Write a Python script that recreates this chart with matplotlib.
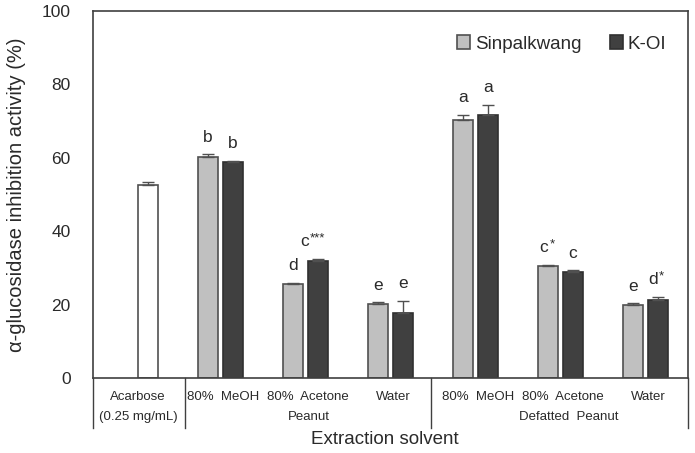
import numpy as np
import matplotlib
matplotlib.use('Agg')
import matplotlib.pyplot as plt
import matplotlib.transforms as mtransforms

plt.rcParams['font.family'] = ['Liberation Sans', 'DejaVu Sans']

# data
groups = ['80%  MeOH', '80%  Acetone', 'Water', '80%  MeOH', '80%  Acetone', 'Water']
sin_vals = [60.3, 25.6, 20.1, 70.3, 30.5, 19.9]
sin_err = [0.6, 0.3, 0.5, 1.4, 0.3, 0.4]
koi_vals = [58.9, 31.9, 17.6, 71.7, 28.9, 21.2]
koi_err = [0.3, 0.5, 3.4, 2.6, 0.4, 0.8]
sin_labels = ['b', 'd', 'e', 'a', 'c*', 'e']
koi_labels = ['b', 'c***', 'e', 'a', 'c', 'd*']
acarbose_val = 52.6
acarbose_err = 0.9

light = '#c0c0c0'
dark = '#404040'
edge = '#505050'
txt = '#2a2a2a'

fig = plt.figure(figsize=(6.95, 4.53), dpi=100)
ax = fig.add_axes([0.1338, 0.1656, 0.8562, 0.8101])

w = 0.235
off = 0.145
x = np.arange(1, len(groups) + 1)

ekw = dict(ecolor=edge, elinewidth=1.0, capsize=4.5, capthick=1.0)
ax.bar(0 + off, acarbose_val, w, color='white', edgecolor=edge, linewidth=1.2,
       yerr=[[0], [acarbose_err]], error_kw=ekw)
ax.bar(x - off, sin_vals, w, color=light, edgecolor=edge, linewidth=1.2,
       yerr=[np.zeros(len(x)), sin_err], error_kw=ekw, label='Sinpalkwang')
ax.bar(x + off, koi_vals, w, color=dark, edgecolor='#303030', linewidth=1.2,
       yerr=[np.zeros(len(x)), koi_err], error_kw=ekw, label='K-OI')


def put_label(xc, top, lab):
    letter = lab.rstrip('*')
    stars = lab[len(letter):]
    y = top + 3.5
    if not stars:
        ax.text(xc, y, letter, ha='center', va='baseline', fontsize=12.5, color=txt)
    else:
        shift = 3.2 * len(stars)
        ax.annotate(letter, (xc, y), xytext=(-shift, 0), textcoords='offset points',
                    ha='center', va='baseline', fontsize=12.5, color=txt)
        ax.annotate(stars, (xc, y), xytext=(-shift + 4, 3.5), textcoords='offset points',
                    ha='left', va='baseline', fontsize=9.5, color=txt)


for i in range(len(x)):
    put_label(x[i] - off, sin_vals[i] + sin_err[i], sin_labels[i])
    put_label(x[i] + off, koi_vals[i] + koi_err[i], koi_labels[i])

ax.set_xlim(-0.5, 6.5)
ax.set_ylim(0, 100)
ax.set_yticks(range(0, 101, 20))
ax.tick_params(axis='y', length=0, pad=16, labelsize=12.5, labelcolor=txt)
ax.set_xticks([])
for s in ax.spines.values():
    s.set_color('#404040')
    s.set_linewidth(1.2)

ax.set_ylabel('α-glucosidase inhibition activity (%)', fontsize=14.5, color=txt, labelpad=11)

# category table under the axis
tr = mtransforms.blended_transform_factory(ax.transData, ax.transAxes)
for xb in [-0.5, 0.58, 3.48, 6.5]:
    ax.plot([xb, xb], [0, -0.137], transform=tr, color='#404040', lw=1.0, clip_on=False)

row1 = -0.052
row2 = -0.105
fs = 9.5
ax.text(0.03, row1, 'Acarbose', transform=tr, ha='center', va='center', fontsize=fs, color=txt)
ax.text(0.03, row2, '(0.25 mg/mL)', transform=tr, ha='center', va='center', fontsize=fs, color=txt)
for i, g in enumerate(groups):
    ax.text(x[i] + 0.03, row1, g, transform=tr, ha='center', va='center', fontsize=fs, color=txt)
ax.text(2.04, row2, 'Peanut', transform=tr, ha='center', va='center', fontsize=fs, color=txt)
ax.text(5.1, row2, 'Defatted  Peanut', transform=tr, ha='center', va='center', fontsize=fs, color=txt)

fig.text(0.553, 0.029, 'Extraction solvent', ha='center', va='center', fontsize=13.5, color=txt)

leg = ax.legend(loc='center right', ncol=2, frameon=False, fontsize=13.5, handlelength=0.7,
                handleheight=0.7, handletextpad=0.25, columnspacing=1.5,
                borderpad=0, borderaxespad=0, bbox_to_anchor=(0.963, 0.91))
for t in leg.get_texts():
    t.set_color(txt)

fig.savefig('out.png', dpi=100)
